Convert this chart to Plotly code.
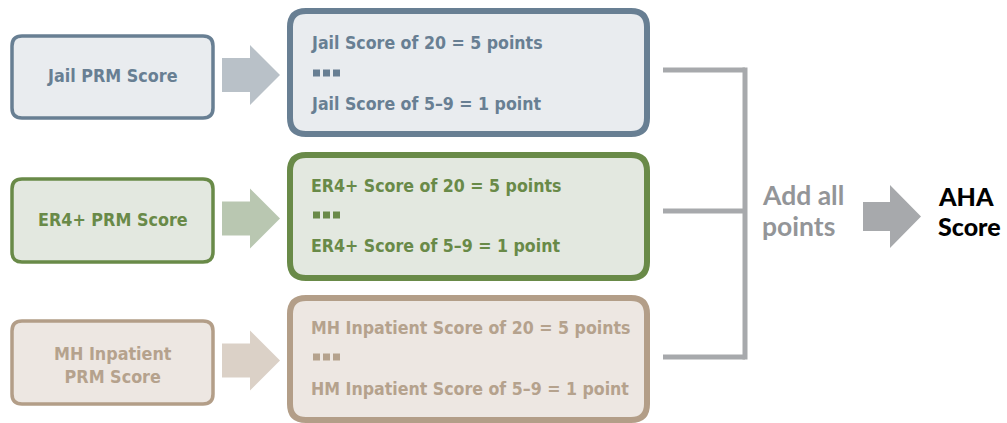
import plotly.graph_objects as go

# ---- content ----
categories = ["Jail", "ER4+", "MH Inpatient"]
source_labels = ["Jail PRM Score", "ER4+ PRM Score", "MH Inpatient<br>PRM Score"]
top_rules = ["Jail Score of 20 = 5 points", "ER4+ Score of 20 = 5 points",
             "MH Inpatient Score of 20 = 5 points"]
bottom_rules = ["Jail Score of 5\u20139 = 1 point", "ER4+ Score of 5\u20139 = 1 point",
                "HM Inpatient Score of 5\u20139 = 1 point"]
sum_lines = ["Add all", "points"]
result_lines = ["AHA", "Score"]

# ---- styles / geometry ----
border_cols = ["#687f93", "#698a48", "#b39e88"]
fill_cols = ["#e9ecef", "#e3e8e0", "#ede7e2"]
arrow_cols = ["#b9c1c8", "#b9c7b1", "#dbd1c7"]
text_cols = ["#687f93", "#698a48", "#b5a28d"]
small_box = [(12, 36, 213, 118), (12, 179, 213, 262), (12, 321, 213, 404)]
big_box = [(290, 11, 647, 134), (290, 155, 647, 278), (290, 298, 647, 420)]
small_text_y = [75, 219, 365]
rule_y = [(43, 73, 104), (186, 215, 246), (328, 357, 389)]
bracket_y = [70, 211, 357]
gray_line = "#a7a9ac"
gray_text = "#939598"
cond_font = "DejaVu Sans Condensed, Roboto, sans-serif"


def rrect(x0, y0, x1, y1, r):
    return (f"M {x0+r},{y0} L {x1-r},{y0} Q {x1},{y0} {x1},{y0+r} "
            f"L {x1},{y1-r} Q {x1},{y1} {x1-r},{y1} L {x0+r},{y1} "
            f"Q {x0},{y1} {x0},{y1-r} L {x0},{y0+r} Q {x0},{y0} {x0+r},{y0} Z")


def arrow(x0, xm, x1, yc, shaft_h, head_h):
    return (f"M {x0},{yc-shaft_h/2} L {xm},{yc-shaft_h/2} L {xm},{yc-head_h/2} "
            f"L {x1},{yc} L {xm},{yc+head_h/2} L {xm},{yc+shaft_h/2} "
            f"L {x0},{yc+shaft_h/2} Z")


shapes = []
annotations = []

for i, cat in enumerate(categories):
    x0, y0, x1, y1 = small_box[i]
    shapes.append(dict(type="path", path=rrect(x0, y0, x1, y1, 10),
                       fillcolor=fill_cols[i], line=dict(color=border_cols[i], width=3.5),
                       layer="above"))
    bx0, by0, bx1, by1 = big_box[i]
    shapes.append(dict(type="path", path=rrect(bx0, by0, bx1, by1, 16),
                       fillcolor=fill_cols[i], line=dict(color=border_cols[i], width=6),
                       layer="above"))
    yc = (y0 + y1) / 2
    shapes.append(dict(type="path", path=arrow(222, 250, 280, yc - 2, 34, 60),
                       fillcolor=arrow_cols[i], line=dict(width=0), layer="above"))
    # source label
    annotations.append(dict(x=(x0 + x1) / 2, y=small_text_y[i], text=f"<b>{source_labels[i]}</b>",
                            showarrow=False, xanchor="center", yanchor="middle",
                            font=dict(family=cond_font, size=17.8, color=text_cols[i])))
    ty, sy, by = rule_y[i]
    annotations.append(dict(x=309, y=ty, text=f"<b>{top_rules[i]}</b>", showarrow=False,
                            xanchor="left", yanchor="middle",
                            font=dict(family=cond_font, size=17.6, color=text_cols[i])))
    annotations.append(dict(x=309, y=by, text=f"<b>{bottom_rules[i]}</b>", showarrow=False,
                            xanchor="left", yanchor="middle",
                            font=dict(family=cond_font, size=17.6, color=text_cols[i])))
    for k in range(3):
        sx = 313 + k * 10
        shapes.append(dict(type="rect", x0=sx, x1=sx + 7, y0=sy - 3.5, y1=sy + 3.5,
                           fillcolor=text_cols[i], line=dict(width=0), layer="above"))

# bracket
for yb in bracket_y:
    shapes.append(dict(type="line", x0=663, x1=745, y0=yb, y1=yb,
                       line=dict(color=gray_line, width=5), layer="above"))
shapes.append(dict(type="line", x0=745, x1=745, y0=bracket_y[0] - 2.5, y1=bracket_y[-1] + 2.5,
                   line=dict(color=gray_line, width=5), layer="above"))

# final arrow
shapes.append(dict(type="path", path=arrow(863, 890, 921, 216.5, 29, 63),
                   fillcolor=gray_line, line=dict(width=0), layer="above"))

for line, yy in zip(sum_lines, [195, 226]):
    annotations.append(dict(x=760, y=yy, text=f"<b>{line}</b>", showarrow=False,
                            xanchor="left", yanchor="middle",
                            font=dict(family="Lato, Open Sans, sans-serif", size=26.5,
                                      color=gray_text)))
for line, yy in zip(result_lines, [196, 226]):
    annotations.append(dict(x=936, y=yy, text=line, showarrow=False,
                            xanchor="left", yanchor="middle",
                            font=dict(family="Lato, Open Sans, sans-serif", size=25,
                                      color="#000000", weight=900)))

fig = go.Figure()
fig.update_layout(
    width=1007, height=423,
    margin=dict(l=0, r=0, t=0, b=0),
    paper_bgcolor="white", plot_bgcolor="white",
    xaxis=dict(range=[0, 1007], visible=False, fixedrange=True),
    yaxis=dict(range=[423, 0], visible=False, fixedrange=True),
    shapes=shapes, annotations=annotations, showlegend=False,
)
fig.write_html("out.html", config=dict(displayModeBar=False))

# remove default page margin so the figure sits at the window origin
with open("out.html", encoding="utf-8") as f:
    html = f.read()
html = html.replace("<body>", '<body style="margin:0;overflow:hidden">', 1)
with open("out.html", "w", encoding="utf-8") as f:
    f.write(html)
